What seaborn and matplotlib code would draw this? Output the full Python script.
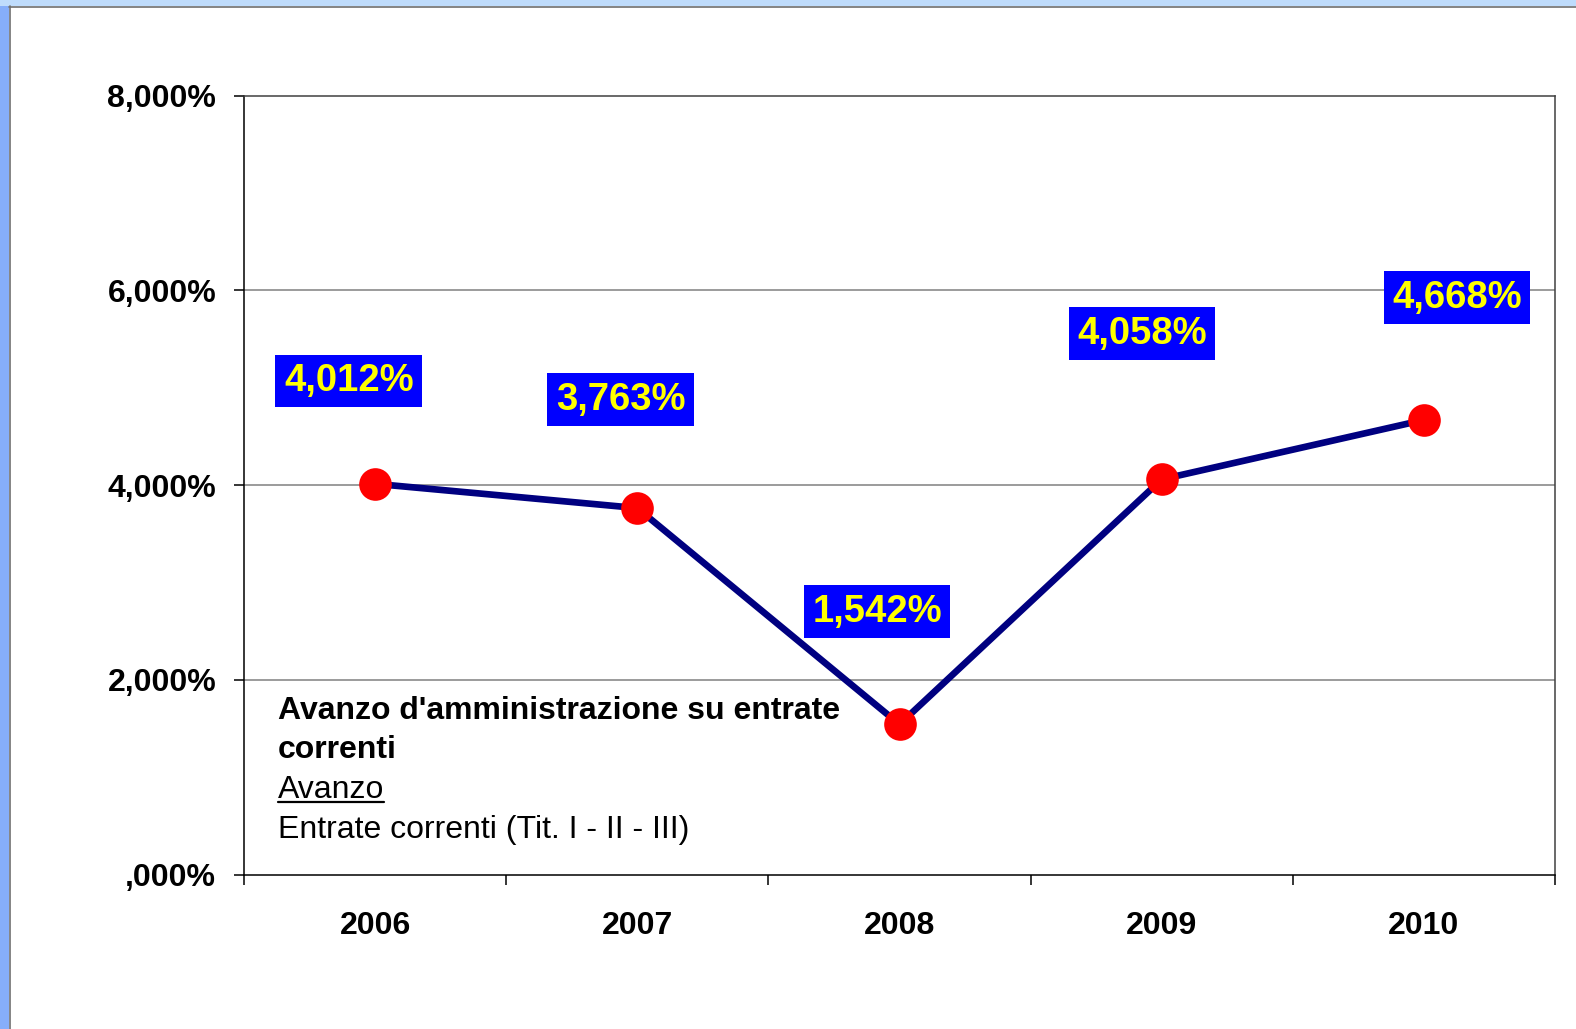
import matplotlib
matplotlib.use("Agg")
import matplotlib.pyplot as plt
import seaborn as sns
import pandas as pd
from matplotlib.ticker import FixedLocator, FuncFormatter, NullFormatter
from matplotlib.patches import Rectangle
from matplotlib.lines import Line2D

years = ["2006", "2007", "2008", "2009", "2010"]
values = [4.012, 3.763, 1.542, 4.058, 4.668]
value_labels = ["4,012%", "3,763%", "1,542%", "4,058%", "4,668%"]
y_ticks = [0, 2, 4, 6, 8]
title_lines = ["Avanzo d'amministrazione su entrate", "correnti"]
sub_line1 = "Avanzo"
sub_line2 = "Entrate correnti (Tit. I - II - III)"

# label offsets (points) relative to each point
label_offsets = [(-19, 74), (-12, 78), (-16, 81), (-14, 105), (24, 88)]

sns.set_theme(style="white")
plt.rcParams["font.family"] = ["Liberation Sans", "DejaVu Sans"]
plt.rcParams["text.color"] = "black"
plt.rcParams["xtick.color"] = "black"
plt.rcParams["ytick.color"] = "black"
plt.rcParams["axes.labelcolor"] = "black"

df = pd.DataFrame({"pos": range(len(years)), "val": values})

fig = plt.figure(figsize=(15.76, 10.29), dpi=100)
fig.patch.set_facecolor("white")
# blue frame strips
fig.patches.append(Rectangle((0, 0), 9 / 1576, 1, transform=fig.transFigure,
                             facecolor="#86AEFA", edgecolor="none", zorder=0))
fig.patches.append(Rectangle((0, 1 - 6 / 1029), 1, 6 / 1029, transform=fig.transFigure,
                             facecolor="#BFDCFC", edgecolor="none", zorder=0))
fig.lines.append(Line2D([9.5 / 1576, 9.5 / 1576], [0, 1 - 6 / 1029], transform=fig.transFigure,
                        color="#707070", lw=1.2))
fig.lines.append(Line2D([9 / 1576, 1], [1 - 6.5 / 1029, 1 - 6.5 / 1029], transform=fig.transFigure,
                        color="#707070", lw=1.2))

ax = fig.add_axes([244 / 1576, 1 - 874.5 / 1029, (1555 - 244) / 1576, (874.5 - 95.5) / 1029])
ax.set_facecolor("white")

sns.lineplot(data=df, x="pos", y="val", ax=ax, color="#000080", linewidth=4.8,
             marker="o", markersize=23.5, markerfacecolor="#FF0000",
             markeredgecolor="#FF0000", markeredgewidth=0, zorder=3)

ax.set_xlim(-0.5, len(years) - 0.5)
ax.set_ylim(0, 8)
ax.set_xlabel("")
ax.set_ylabel("")

# grid
for yv in y_ticks[1:-1]:
    ax.axhline(yv, color="#808080", lw=1.1, zorder=1)

for s in ax.spines.values():
    s.set_visible(True)
    s.set_color("black")
    s.set_linewidth(1.1)
ax.spines["right"].set_color("#404040")
ax.spines["top"].set_color("#404040")

# y ticks
ax.yaxis.set_major_locator(FixedLocator(y_ticks))
ax.yaxis.set_major_formatter(FuncFormatter(
    lambda v, p: ("%.3f" % v).replace(".", ",").lstrip("0") + "%"))
ax.tick_params(axis="y", which="major", direction="out", length=7, width=1.1,
               color="black", labelcolor="black", pad=13, labelsize=23, left=True)
for lab in ax.get_yticklabels():
    lab.set_fontweight("bold")

# x ticks: marks at boundaries, labels at centres
bounds = [i - 0.5 for i in range(len(years) + 1)]
ax.xaxis.set_major_locator(FixedLocator(bounds))
ax.xaxis.set_major_formatter(NullFormatter())
ax.xaxis.set_minor_locator(FixedLocator(list(range(len(years)))))
ax.xaxis.set_minor_formatter(FuncFormatter(lambda v, p: years[int(round(v))]))
ax.tick_params(axis="x", which="major", direction="out", length=7, width=1.1,
               color="black", bottom=True)
ax.tick_params(axis="x", which="minor", length=0, pad=26, labelsize=23,
               labelcolor="black", bottom=True)
for lab in ax.get_xticklabels(minor=True):
    lab.set_fontweight("bold")

# value labels
for i, (v, txt) in enumerate(zip(values, value_labels)):
    dx, dy = label_offsets[i]
    ax.annotate(txt, xy=(i, v), xytext=(dx, dy), textcoords="offset points",
                ha="center", va="center", fontsize=27.5, fontweight="bold",
                color="#FFFF00", zorder=5,
                bbox=dict(boxstyle="square,pad=0.22", facecolor="#0000FF",
                          edgecolor="none"))

# text block
tx = (278 - 244) / 1311
ys = [(874.5 - 711) / 779, (874.5 - 750) / 779, (874.5 - 790) / 779, (874.5 - 830) / 779]
ax.text(tx, ys[0], title_lines[0], transform=ax.transAxes, fontsize=23,
        fontweight="bold", color="black", va="center", ha="left", zorder=4)
ax.text(tx, ys[1], title_lines[1], transform=ax.transAxes, fontsize=23,
        fontweight="bold", color="black", va="center", ha="left", zorder=4)
t_av = ax.text(tx, ys[2], sub_line1, transform=ax.transAxes, fontsize=23,
               color="black", va="center", ha="left", zorder=4)
ax.text(tx, ys[3], sub_line2, transform=ax.transAxes, fontsize=23,
        color="black", va="center", ha="left", zorder=4)

fig.canvas.draw()
bb = t_av.get_window_extent(renderer=fig.canvas.get_renderer())
inv = fig.transFigure.inverted()
(x0, y0), (x1, _) = inv.transform([(bb.x0, bb.y0 + 3), (bb.x1, bb.y0 + 3)])
fig.lines.append(Line2D([x0, x1], [y0, y0], transform=fig.transFigure,
                        color="black", lw=1.6))

fig.savefig("out.png", dpi=100, facecolor="white")
